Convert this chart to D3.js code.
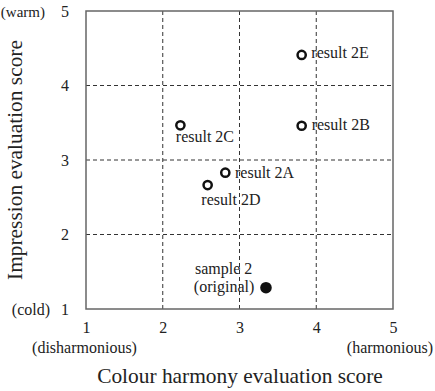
<!DOCTYPE html>
<html><head><meta charset="utf-8">
<script src="https://cdn.jsdelivr.net/npm/d3@7"></script>
<style>body{margin:0;background:#fff}svg{display:block}</style>
</head><body>
<script>
const labels = ["result 2E","result 2B","result 2C","result 2A","result 2D","sample 2"];
const harmony = [3.81, 3.81, 2.23, 2.815, 2.585, 3.345];
const impression = [4.41, 3.46, 3.466, 2.83, 2.664, 1.286];
const filled = [false,false,false,false,false,true];
const ticks = [1,2,3,4,5];

const W=435,H=391;
const svg=d3.select("body").append("svg").attr("width",W).attr("height",H);
const x=d3.scaleLinear().domain([1,5]).range([86,393]);
const y=d3.scaleLinear().domain([1,5]).range([309,11]);

const g=svg.append("g");
g.selectAll(".gx").data(ticks.slice(1,4)).join("line")
 .attr("x1",d=>x(d)).attr("x2",d=>x(d)).attr("y1",y(5)).attr("y2",y(1))
 .attr("stroke","#333").attr("stroke-width",1).attr("stroke-dasharray","4,3");
g.selectAll(".gy").data(ticks.slice(1,4)).join("line")
 .attr("y1",d=>y(d)).attr("y2",d=>y(d)).attr("x1",x(1)).attr("x2",x(5))
 .attr("stroke","#333").attr("stroke-width",1).attr("stroke-dasharray","4,3");
svg.append("rect").attr("x",x(1)).attr("y",y(5)).attr("width",x(5)-x(1)).attr("height",y(1)-y(5))
 .attr("fill","none").attr("stroke","#666").attr("stroke-width",1.5);

const xa=svg.append("g").attr("transform",`translate(0,${y(1)})`)
 .call(d3.axisBottom(x).tickValues(ticks).tickSize(0).tickPadding(24).tickFormat(d3.format("d")));
xa.select(".domain").remove();
xa.selectAll("text").attr("font-size",16).attr("dy","0");
const ya=svg.append("g").attr("transform",`translate(${x(1)},0)`)
 .call(d3.axisLeft(y).tickValues(ticks).tickSize(0).tickPadding(17).tickFormat(d3.format("d")));
ya.select(".domain").remove();
ya.selectAll("text").attr("font-size",16);

svg.append("text").attr("x",45).attr("y",y(5)+5.5).attr("text-anchor","end").attr("font-size",15).text("(warm)");
svg.append("text").attr("x",50).attr("y",y(1)+5.5).attr("text-anchor","end").attr("font-size",16).text("(cold)");
svg.append("text").attr("x",84.5).attr("y",353).attr("text-anchor","middle").attr("font-size",16).text("(disharmonious)");
svg.append("text").attr("x",433).attr("y",353).attr("text-anchor","end").attr("font-size",16).text("(harmonious)");

svg.append("text").attr("x",240).attr("y",383).attr("text-anchor","middle").attr("font-size",21.4).text("Colour harmony evaluation score");
svg.append("text").attr("transform","translate(22,160) rotate(-90)").attr("text-anchor","middle").attr("font-size",21.4).text("Impression evaluation score");

const data=labels.map((l,i)=>({l,h:harmony[i],v:impression[i],f:filled[i]}));
svg.selectAll(".pt").data(data).join("circle")
 .attr("cx",d=>x(d.h)).attr("cy",d=>y(d.v))
 .attr("r",d=>d.f?5.8:4.1)
 .attr("fill",d=>d.f?"#111":"#fff").attr("stroke","#111").attr("stroke-width",d=>d.f?0:2.5);

const off={"result 2E":[9.7,3.5,"start"],"result 2B":[10,4,"start"],"result 2C":[-4.6,16.4,"start"],
 "result 2A":[9.7,5.6,"start"],"result 2D":[-6.3,20,"start"],"sample 2":[-13.7,-13.4,"end"]};
svg.selectAll(".lb").data(data).join("text")
 .attr("x",d=>x(d.h)+off[d.l][0]).attr("y",d=>y(d.v)+off[d.l][1])
 .attr("text-anchor",d=>off[d.l][2]).attr("font-size",16).text(d=>d.l);
const s=data[5];
svg.append("text").attr("x",x(s.h)-11.7).attr("y",y(s.v)+4).attr("text-anchor","end").attr("font-size",16).text("(original)");

svg.selectAll("text").style("font-family",'"Liberation Serif"').attr("fill","#222");
</script>
</body></html>
